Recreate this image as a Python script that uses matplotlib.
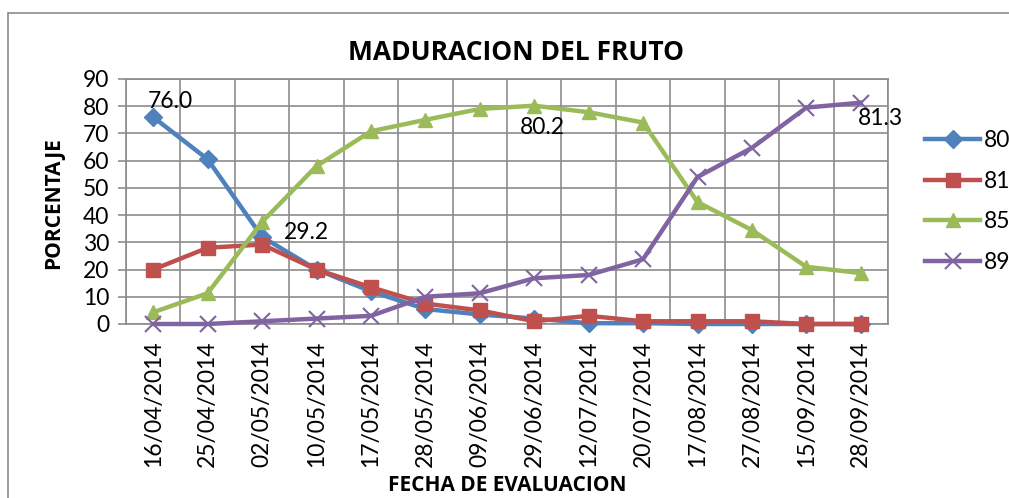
import matplotlib.pyplot as plt
from matplotlib.patches import Rectangle
import numpy as np

# Datos del grafico
fechas = ["16/04/2014", "25/04/2014", "02/05/2014", "10/05/2014", "17/05/2014",
          "28/05/2014", "09/06/2014", "29/06/2014", "12/07/2014", "20/07/2014",
          "17/08/2014", "27/08/2014", "15/09/2014", "28/09/2014"]
serie_80 = [76.0, 60.5, 32.0, 20.0, 12.0, 5.5, 3.5, 2.0, 0.3, 0.3, 0.0, 0.0, 0.0, 0.0]
serie_81 = [20.0, 28.0, 29.2, 20.0, 13.5, 7.5, 5.0, 1.0, 3.0, 1.0, 1.0, 1.0, 0.0, 0.0]
serie_85 = [4.3, 11.3, 37.5, 58.0, 70.8, 75.0, 79.0, 80.2, 77.8, 74.0, 44.8, 34.5, 21.0, 18.7]
serie_89 = [0.0, 0.0, 1.0, 2.0, 3.0, 10.0, 11.3, 16.8, 18.0, 23.8, 54.0, 64.7, 79.5, 81.3]

nombres = ["80", "81", "85", "89"]
colores = ["#4F81BD", "#C0504D", "#9BBB59", "#8064A2"]
marcadores = ["D", "s", "^", "x"]

plt.rcParams['font.family'] = ['Lato', 'DejaVu Sans']
negrita = dict(family=['Open Sans', 'DejaVu Sans'], fontweight="bold")
fs = 16.5

W, H = 1009, 498
fig = plt.figure(figsize=(W / 100, H / 100), dpi=100)

# Borde exterior del area del grafico
fig.patches.append(Rectangle((8 / W, -0.1), 1.2, 1 - 13 / H + 0.1, transform=fig.transFigure,
                             fill=False, edgecolor="#8c8c8c", linewidth=1.2))

ax = fig.add_axes([126 / W, 1 - 324 / H, (888 - 126) / W, (324 - 79) / H])

x = np.arange(len(fechas))
series = [serie_80, serie_81, serie_85, serie_89]
for datos, nombre, color, marca in zip(series, nombres, colores, marcadores):
    ms = 11 if marca == "x" else (9 if marca == "D" else 10)
    mew = 1.5 if marca == "x" else 1
    ax.plot(x, datos, color=color, linewidth=3.2, marker=marca, markersize=ms,
            markeredgewidth=mew, markeredgecolor=color, label=nombre, zorder=3,
            solid_joinstyle="round", clip_on=False)

# Etiquetas de los maximos
ax.annotate("76.0", (0, serie_80[0]), xytext=(-4, 4), textcoords="offset points",
            fontsize=fs, ha="left", va="bottom")
ax.annotate("29.2", (2, serie_81[2]), xytext=(16, 1), textcoords="offset points",
            fontsize=fs, ha="left", va="bottom")
ax.annotate("80.2", (7, serie_85[7]), xytext=(-10, -8), textcoords="offset points",
            fontsize=fs, ha="left", va="top")
ax.annotate("81.3", (13, serie_89[13]), xytext=(-2, -4), textcoords="offset points",
            fontsize=fs, ha="left", va="top")

ax.set_xlim(-0.5, len(fechas) - 0.5)
ax.set_ylim(0, 90)
ax.set_yticks(np.arange(0, 91, 10))
ax.set_xticks(x)
ax.set_xticklabels(fechas, rotation=90, fontsize=fs)
ax.set_xticks(np.arange(-0.5, len(fechas), 1), minor=True)
ax.tick_params(axis="y", labelsize=fs, length=6, color="#8c8c8c", width=1.2, pad=6)
ax.tick_params(axis="x", which="major", length=0, pad=12)
ax.tick_params(axis="x", which="minor", length=0)
ax.grid(True, axis="y", color="#8c8c8c", linewidth=1.2)
ax.grid(True, axis="x", which="minor", color="#8c8c8c", linewidth=1.2)
ax.set_axisbelow(True)
for s in ax.spines.values():
    s.set_color("#8c8c8c")
    s.set_linewidth(1.2)

# Titulos de ejes y del grafico
fig.text(54 / W, 1 - 203 / H, "PORCENTAJE", fontsize=15, rotation=90, ha="center", va="center",
         **negrita)
fig.text(507 / W, 1 - 485 / H, "FECHA DE EVALUACION", fontsize=15, ha="center", va="center",
         **negrita)
fig.text(516 / W, 1 - 53 / H, "MADURACION DEL FRUTO", fontsize=19, ha="center", va="center",
         **negrita)

ax.legend(loc="upper left", bbox_to_anchor=(916 / W, 1 - 121 / H), bbox_transform=fig.transFigure,
          frameon=False, fontsize=fs, handlelength=2.4, labelspacing=0.85, handletextpad=0.15,
          borderaxespad=0)

fig.savefig("out.png", dpi=100)
